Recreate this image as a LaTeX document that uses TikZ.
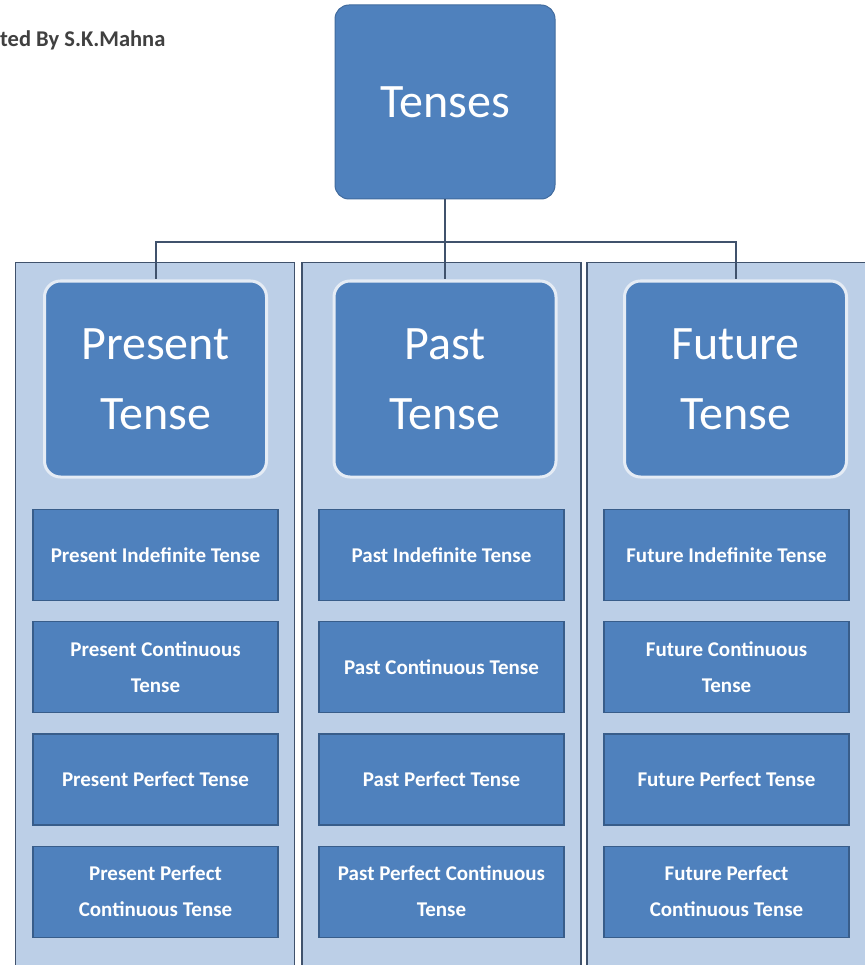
\documentclass[tikz,border=0pt]{standalone}
\usepackage{fontspec}
\setmainfont{Carlito}
\usetikzlibrary{positioning,calc}
\definecolor{bleu}{RGB}{79,129,189}
\definecolor{bleufonce}{RGB}{56,93,138}
\definecolor{bleuclair}{RGB}{188,207,231}
\definecolor{trait}{RGB}{64,82,108}
\tikzset{%
	% Specifications for style of nodes:
	base/.style = {rectangle, fill=bleu, text=white, align=center, inner sep=2pt},
	root/.style = {base, rounded corners=14pt, draw=bleufonce!60!bleu, line width=1pt,
	minimum width=220pt, minimum height=194pt, font=\fontsize{48}{56}\selectfont},
	head/.style = {base, rounded corners=16pt, draw=white!85!bleu, line width=3pt,
	minimum width=222pt, minimum height=196pt, font=\fontsize{48}{70}\selectfont},
	sub/.style = {base, draw=bleufonce, line width=1.2pt, minimum width=245pt,
	minimum height=91pt, font=\bfseries\fontsize{21}{36}\selectfont},
	column/.style = {rectangle, fill=bleuclair, draw=trait, line width=1.5pt,
	minimum width=279pt, minimum height=730pt, anchor=north},
	link/.style = {draw=trait, line width=2pt}
}

\begin{document}
\begin{tikzpicture}[x=1pt,y=-1pt, node distance=20pt]
		\useasboundingbox (0,0) rectangle (864,965);
		\fill[white] (0,0) rectangle (864,965);
		% Caption at the top left
		\node (auteur) [anchor=west, text=black!75, inner sep=0pt,
		font=\bfseries\fontsize{22.5}{26}\selectfont] at (0,40) {ted By S.K.Mahna};
		
		% Background columns
		\node (c1) [column] at (155,262) {};
		\node (c2) [column] at (441.5,262) {};
		\node (c3) [column, minimum width=290pt] at (732,262) {};
		
		% Root and headings
		\node (tenses)  [root] at (445,102) {Tenses};
		\node (present) [head] at (155.5,379) {Present\\Tense};
		\node (past)    [head] at (445,379) {Past\\Tense};
		\node (future)  [head] at (735.5,379) {Future\\Tense};
		
		\draw[link] (tenses.south) -- ++(0,43) coordinate (bus) -| (present.north);
		\draw[link] (bus) -- (past.north);
		\draw[link] (bus) -| (future.north);
		
		% Present column
		\node (pr1) [sub] at (155.5,555) {Present Indefinite Tense};
		\node (pr2) [sub, below=of pr1] {Present Continuous\\Tense};
		\node (pr3) [sub, below=of pr2] {Present Perfect Tense};
		\node (pr4) [sub, below=of pr3] {Present Perfect\\Continuous Tense};
		
		% Past column
		\node (pa1) [sub] at (441.5,555) {Past Indefinite Tense};
		\node (pa2) [sub, below=of pa1] {Past Continuous Tense};
		\node (pa3) [sub, below=of pa2] {Past Perfect Tense};
		\node (pa4) [sub, below=of pa3] {Past Perfect Continuous\\Tense};
		
		% Future column
		\node (fu1) [sub] at (726.5,555) {Future Indefinite Tense};
		\node (fu2) [sub, below=of fu1] {Future Continuous\\Tense};
		\node (fu3) [sub, below=of fu2] {Future Perfect Tense};
		\node (fu4) [sub, below=of fu3] {Future Perfect\\Continuous Tense};
		
\end{tikzpicture}
\end{document}
